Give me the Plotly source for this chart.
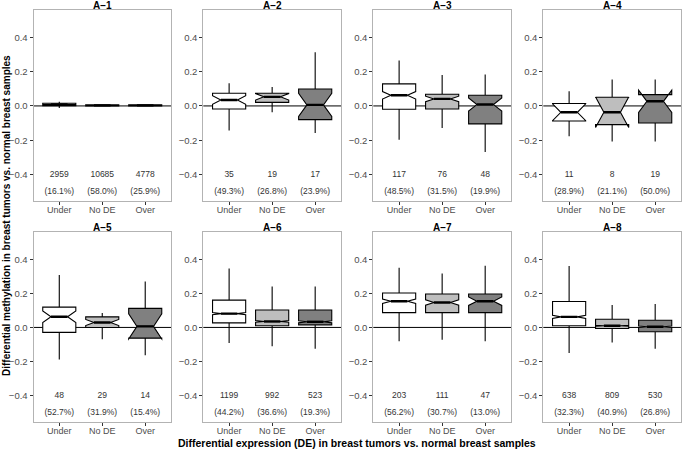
import plotly.graph_objects as go

categories = ["Under", "No DE", "Over"]
panel_titles = ["A\u22121", "A\u22122", "A\u22123", "A\u22124", "A\u22125", "A\u22126", "A\u22127", "A\u22128"]

# per panel: values for [Under, No DE, Over]
lower_whisker = [
    [-0.012, -0.002, -0.002],
    [-0.144, -0.037, -0.158],
    [-0.197, -0.129, -0.269],
    [-0.177, -0.207, -0.207],
    [-0.188, -0.069, -0.163],
    [-0.092, -0.110, -0.125],
    [-0.081, -0.073, -0.081],
    [-0.150, -0.088, -0.125],
]
q1_vals = [
    [0.002, 0.000, 0.000],
    [-0.018, 0.021, -0.080],
    [-0.019, -0.018, -0.105],
    [-0.088, -0.109, -0.100],
    [-0.029, 0.000, -0.063],
    [0.027, 0.010, 0.015],
    [0.087, 0.087, 0.087],
    [0.010, -0.006, -0.025],
]
median_vals = [
    [0.008, 0.003, 0.003],
    [0.035, 0.053, 0.006],
    [0.062, 0.041, 0.008],
    [-0.037, -0.037, 0.027],
    [0.063, 0.029, 0.006],
    [0.081, 0.035, 0.033],
    [0.154, 0.146, 0.154],
    [0.062, 0.010, 0.004],
]
q3_vals = [
    [0.016, 0.007, 0.007],
    [0.074, 0.074, 0.099],
    [0.129, 0.068, 0.062],
    [0.014, 0.051, 0.066],
    [0.119, 0.062, 0.112],
    [0.160, 0.102, 0.102],
    [0.202, 0.196, 0.196],
    [0.152, 0.048, 0.042],
]
upper_whisker = [
    [0.024, 0.008, 0.008],
    [0.133, 0.111, 0.314],
    [0.265, 0.181, 0.183],
    [0.086, 0.154, 0.154],
    [0.308, 0.085, 0.269],
    [0.346, 0.240, 0.240],
    [0.350, 0.317, 0.362],
    [0.360, 0.131, 0.138],
]
notch_half = [
    [0.0004, 0.0001, 0.0002],
    [0.025, 0.019, 0.068],
    [0.022, 0.016, 0.038],
    [0.049, 0.089, 0.065],
    [0.034, 0.018, 0.074],
    [0.006, 0.005, 0.006],
    [0.013, 0.016, 0.025],
    [0.009, 0.003, 0.004],
]
counts = [
    [2959, 10685, 4778],
    [35, 19, 17],
    [117, 76, 48],
    [11, 8, 19],
    [48, 29, 14],
    [1199, 992, 523],
    [203, 111, 47],
    [638, 809, 530],
]
percents = [
    [16.1, 58.0, 25.9],
    [49.3, 26.8, 23.9],
    [48.5, 31.5, 19.9],
    [28.9, 21.1, 50.0],
    [52.7, 31.9, 15.4],
    [44.2, 36.6, 19.3],
    [56.2, 30.7, 13.0],
    [32.3, 40.9, 26.8],
]

fill_colors = ["#FFFFFF", "#BEBEBE", "#808080"]

W, H = 683, 450
x_px = [(33.5, 171), (203.3, 341), (373.3, 511), (543.3, 681)]
y_px = [(10, 201), (232, 422)]
YR = [-0.555, 0.56]
BOX_W = 0.77
NOTCH_FRAC = 0.5  # median segment width relative to box width

fig = go.Figure()
layout = {}
annotations = []
shapes = []
font_family = "Liberation Sans, Arial, sans-serif"
positions = list(range(len(categories)))

for p in range(8):
    r, c = divmod(p, 4)
    idx = p + 1
    xa = "x" if idx == 1 else f"x{idx}"
    ya = "y" if idx == 1 else f"y{idx}"
    xd = [x_px[c][0] / W, x_px[c][1] / W]
    yd = [1 - y_px[r][1] / H, 1 - y_px[r][0] / H]
    layout["xaxis" if idx == 1 else f"xaxis{idx}"] = dict(
        domain=xd, anchor=ya, range=[-0.6, 2.6], automargin=False,
        tickvals=positions, ticktext=categories,
        showline=True, mirror=True, linecolor="#B3B3B3", linewidth=1,
        ticks="outside", ticklen=3, tickcolor="#333333",
        showgrid=False, zeroline=False, ticklabelstandoff=-3,
        tickfont=dict(size=9, color="#4D4D4D", family=font_family),
        fixedrange=True,
    )
    layout["yaxis" if idx == 1 else f"yaxis{idx}"] = dict(
        domain=yd, anchor=xa, range=YR, automargin=False,
        tickvals=[-0.4, -0.2, 0.0, 0.2, 0.4],
        ticktext=["\u22120.4", "\u22120.2", "0.0", "0.2", "0.4"],
        showline=True, mirror=True, linecolor="#B3B3B3", linewidth=1,
        ticks="outside", ticklen=3, tickcolor="#333333",
        showgrid=False, zeroline=False,
        tickfont=dict(size=9.5, color="#4D4D4D", family=font_family),
        fixedrange=True,
    )
    # zero line
    shapes.append(dict(type="line", xref=f"{xa} domain", yref=ya, x0=0, x1=1, y0=0, y1=0,
                       line=dict(color="black", width=1), layer="below"))
    mx, my = [], []
    for k in positions:
        fig.add_trace(go.Box(
            x=[k], q1=[q1_vals[p][k]], median=[median_vals[p][k]], q3=[q3_vals[p][k]],
            lowerfence=[lower_whisker[p][k]], upperfence=[upper_whisker[p][k]],
            notchspan=[notch_half[p][k]], notched=True, notchwidth=0.25,
            width=BOX_W, fillcolor=fill_colors[k], boxpoints=False,
            line=dict(color="black", width=1.1), whiskerwidth=0,
            xaxis=xa, yaxis=ya, showlegend=False, hoverinfo="skip",
        ))
        half = BOX_W * NOTCH_FRAC / 2
        mx += [k - half, k + half, None]
        my += [median_vals[p][k], median_vals[p][k], None]
    # thick median segments
    fig.add_trace(go.Scatter(
        x=mx, y=my, mode="lines", line=dict(color="black", width=2.4),
        xaxis=xa, yaxis=ya, showlegend=False, hoverinfo="skip",
    ))
    fig.add_trace(go.Scatter(
        x=positions, y=[-0.4] * 3, mode="text",
        text=[str(v) for v in counts[p]],
        textfont=dict(size=8.5, color="#333333", family=font_family),
        xaxis=xa, yaxis=ya, showlegend=False, hoverinfo="skip",
    ))
    fig.add_trace(go.Scatter(
        x=positions, y=[-0.5] * 3, mode="text",
        text=[f"({v:.1f}%)" for v in percents[p]],
        textfont=dict(size=8.5, color="#333333", family=font_family),
        xaxis=xa, yaxis=ya, showlegend=False, hoverinfo="skip",
    ))
    annotations.append(dict(
        text=f"<b>{panel_titles[p]}</b>", xref="paper", yref="paper",
        x=(xd[0] + xd[1]) / 2, y=yd[1], yanchor="bottom", xanchor="center",
        yshift=-3, showarrow=False,
        font=dict(size=10, color="black", family=font_family),
    ))

annotations.append(dict(
    text="<b>Differential expression (DE) in breast tumors vs. normal breast samples</b>",
    xref="paper", yref="paper", x=(x_px[0][0] + x_px[3][1]) / 2 / W, y=0,
    xanchor="center", yanchor="bottom", yshift=-1, showarrow=False,
    font=dict(size=10.5, color="black", family=font_family),
))
annotations.append(dict(
    text="<b>Differential methylation in breast tumors vs. normal breast samples</b>",
    xref="paper", yref="paper", x=6 / W, y=1 - 216 / H, textangle=-90,
    xanchor="center", yanchor="middle", showarrow=False,
    font=dict(size=10, color="black", family=font_family),
))

fig.update_layout(
    width=W, height=H, margin=dict(l=0, r=0, t=0, b=0),
    paper_bgcolor="white", plot_bgcolor="white",
    boxmode="overlay", showlegend=False,
    annotations=annotations, shapes=shapes,
    **layout,
)

fig.write_html("out.html", config={"displayModeBar": False},
               post_script="document.body.style.margin='0px';")
